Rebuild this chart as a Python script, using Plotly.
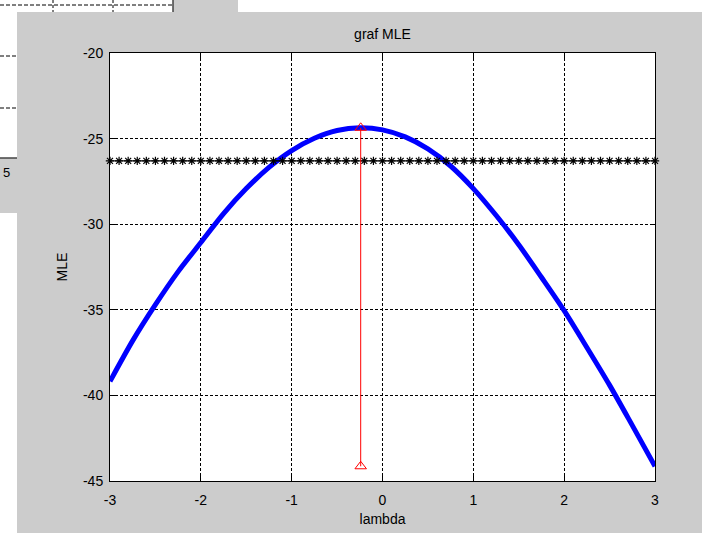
import plotly.graph_objects as go

# ---------------- data ----------------
lambda_vals = [-3.00, -2.75, -2.50, -2.25, -2.00, -1.75, -1.50, -1.25, -1.00, -0.75,
               -0.50, -0.25, 0.00, 0.25, 0.50, 0.75, 1.00, 1.25, 1.50, 1.75,
               2.00, 2.25, 2.50, 2.75, 3.00]
mle_vals = [-39.18, -36.80, -34.70, -32.77, -31.07, -29.38, -27.92, -26.68, -25.70, -24.98,
            -24.53, -24.37, -24.49, -24.90, -25.60, -26.60, -27.92, -29.48, -31.20, -33.10,
            -35.05, -37.20, -39.40, -41.75, -44.14]

ci_lambda = [-3.0, -2.9, -2.8, -2.7, -2.6, -2.5, -2.4, -2.3, -2.2, -2.1,
             -2.0, -1.9, -1.8, -1.7, -1.6, -1.5, -1.4, -1.3, -1.2, -1.1,
             -1.0, -0.9, -0.8, -0.7, -0.6, -0.5, -0.4, -0.3, -0.2, -0.1,
             0.0, 0.1, 0.2, 0.3, 0.4, 0.5, 0.6, 0.7, 0.8, 0.9,
             1.0, 1.1, 1.2, 1.3, 1.4, 1.5, 1.6, 1.7, 1.8, 1.9,
             2.0, 2.1, 2.2, 2.3, 2.4, 2.5, 2.6, 2.7, 2.8, 2.9, 3.0]
ci_level = -26.30

best_lambda = [-0.24, -0.24]
best_mle = [-24.37, -44.14]

x_ticks = [-3, -2, -1, 0, 1, 2, 3]
y_ticks = [-45, -40, -35, -30, -25, -20]

# ---------------- figure geometry ----------------
W, H = 702, 533
ML, MR, MT, MB = 110, 47, 53, 52
PW = W - ML - MR
PH = H - MT - MB


def px(xp):
    return (xp - ML) / PW


def py(yp):
    return (H - MB - yp) / PH


GRAY = "#cccccc"
FONT = "Liberation Sans, Arial, sans-serif"

fig = go.Figure()

fig.add_trace(go.Scatter(
    x=lambda_vals, y=mle_vals, mode="lines",
    line=dict(color="#0000ff", width=5, shape="spline", smoothing=0.8),
    cliponaxis=False, showlegend=False, hoverinfo="x+y"))

fig.add_trace(go.Scatter(
    x=ci_lambda, y=[ci_level] * len(ci_lambda), mode="lines+markers",
    line=dict(color="black", width=1),
    marker=dict(symbol="asterisk-open", size=7, color="black",
                line=dict(color="black", width=1.2)),
    cliponaxis=False, showlegend=False, hoverinfo="x+y"))

fig.add_trace(go.Scatter(
    x=best_lambda, y=best_mle, mode="lines+markers",
    line=dict(color="#ff0000", width=1),
    marker=dict(symbol="triangle-up-open", size=10, color="#ff0000",
                line=dict(color="#ff0000", width=1)),
    cliponaxis=False, showlegend=False, hoverinfo="x+y"))

axis_common = dict(
    showline=True, linecolor="black", linewidth=1, mirror="ticks",
    ticks="inside", ticklen=5, tickwidth=1, tickcolor="black",
    showgrid=True, gridcolor="black", gridwidth=1, griddash="3px,2px",
    zeroline=False,
    tickfont=dict(family=FONT, size=14, color="black"),
    title_font=dict(family=FONT, size=14, color="black"),
)

fig.update_xaxes(range=[-3, 3], tickvals=x_ticks, ticktext=[str(v) for v in x_ticks],
                 ticklabelstandoff=6, title_text="lambda", title_standoff=7, **axis_common)
fig.update_yaxes(range=[-45, -20], tickvals=y_ticks, ticktext=[str(v) for v in y_ticks],
                 ticklabelstandoff=3, title_text="MLE", title_standoff=12, **axis_common)

# background windows of the screenshot (another figure peeking in at top-left)
shapes = []
white_rects = [(0, 0, 173, 12), (238, 0, W, 12), (0, 0, 17, 158), (0, 213, 17, H)]
for x0, y0, x1, y1 in white_rects:
    shapes.append(dict(type="rect", xref="paper", yref="paper",
                       x0=px(x0), x1=px(x1), y0=py(y1), y1=py(y0),
                       fillcolor="white", line=dict(width=0), layer="below"))
for yy, xe in [(5, 173), (56, 17), (108, 17)]:
    shapes.append(dict(type="line", xref="paper", yref="paper",
                       x0=px(0), x1=px(xe), y0=py(yy), y1=py(yy),
                       line=dict(color="black", width=1, dash="4px,2px"), layer="below"))
for xx in [53, 113]:
    shapes.append(dict(type="line", xref="paper", yref="paper",
                       x0=px(xx), x1=px(xx), y0=py(0), y1=py(12),
                       line=dict(color="black", width=1, dash="3px,2px"), layer="below"))
shapes.append(dict(type="line", xref="paper", yref="paper",
                   x0=px(173), x1=px(173), y0=py(0), y1=py(12),
                   line=dict(color="#444444", width=1.5), layer="below"))
shapes.append(dict(type="line", xref="paper", yref="paper",
                   x0=px(0), x1=px(17), y0=py(158), y1=py(158),
                   line=dict(color="#444444", width=1.5), layer="below"))

fig.update_layout(
    width=W, height=H,
    margin=dict(l=ML, r=MR, t=MT, b=MB, autoexpand=False),
    paper_bgcolor=GRAY, plot_bgcolor="white",
    title=dict(text="graf MLE", x=0.5, xref="paper", y=1 - 34 / H, yref="container",
               xanchor="center", yanchor="middle",
               font=dict(family=FONT, size=14, color="black")),
    font=dict(family=FONT, size=13, color="black"),
    shapes=shapes,
    annotations=[dict(text="5", xref="paper", yref="paper", x=px(0.5), y=py(172),
                      xanchor="left", yanchor="middle", showarrow=False,
                      font=dict(family=FONT, size=13, color="black"))],
)

fig.write_html("out.html", config={"displayModeBar": False},
               post_script="document.body.style.margin='0';document.body.style.overflow='hidden';")
